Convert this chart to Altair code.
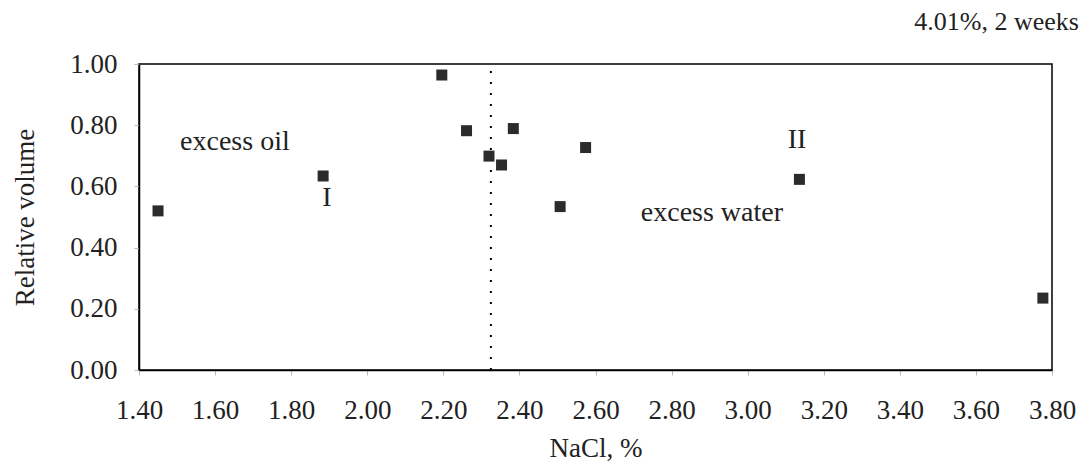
import altair as alt
import pandas as pd

nacl = [1.45, 1.884, 2.196, 2.261, 2.32, 2.353, 2.384, 2.574, 2.507, 3.136, 3.776]
rel_vol = [0.52, 0.634, 0.964, 0.782, 0.699, 0.670, 0.789, 0.727, 0.534, 0.623, 0.235]

ann_text = ["excess oil", "I", "II", "excess water"]
ann_x = [1.652, 1.894, 3.130, 2.906]
ann_y = [0.745, 0.562, 0.752, 0.513]

x_ticks = [1.4, 1.6, 1.8, 2.0, 2.2, 2.4, 2.6, 2.8, 3.0, 3.2, 3.4, 3.6, 3.8]
y_ticks = [0.0, 0.2, 0.4, 0.6, 0.8, 1.0]

boundary_x = [2.325]
FONT = "Liberation Serif"
TXT = "#222222"

pts = pd.DataFrame({"x": nacl, "y": rel_vol})
ann = pd.DataFrame({"t": ann_text, "x": ann_x, "y": ann_y})
vline = pd.DataFrame({"x": boundary_x, "y0": [0.0], "y1": [1.0]})

xs = alt.Scale(domain=[1.4, 3.8], nice=False, zero=False)
ys = alt.Scale(domain=[0, 1.0], nice=False)

common = dict(grid=False, tickSize=5, tickColor="#bbbbbb", domainColor="black", domainWidth=1.5,
              labelFont=FONT, titleFont=FONT, labelFontSize=27, titleFontSize=27,
              labelColor=TXT, titleColor=TXT, titleFontWeight="normal")

xaxis = alt.Axis(values=x_ticks, format=".2f", labelPadding=22, title="NaCl, %",
                 titlePadding=12, labelFlush=False, labelOverlap=False, **common)
yaxis = alt.Axis(values=y_ticks, format=".2f", labelPadding=17, title="Relative volume",
                 titlePadding=30, labelFlush=False, labelOverlap=False, **common)

points = alt.Chart(pts).mark_square(size=121, color="#2b2b2b", opacity=1).encode(
    x=alt.X("x:Q", scale=xs, axis=xaxis),
    y=alt.Y("y:Q", scale=ys, axis=yaxis),
)

rule = alt.Chart(vline).mark_rule(color="black", strokeWidth=2, strokeDash=[2, 9]).encode(
    x="x:Q", y="y0:Q", y2="y1:Q"
)

texts = alt.Chart(ann).mark_text(font=FONT, fontSize=28, color=TXT).encode(
    x="x:Q", y="y:Q", text="t:N"
)

chart = alt.layer(rule, points, texts).properties(
    width=913, height=306,
    title=alt.TitleParams("4.01%, 2 weeks", anchor="end", frame="group", font=FONT, fontSize=26,
                          fontWeight="normal", color=TXT, dx=27, offset=15),
    autosize=alt.AutoSizeParams(type="none"),
    padding={"left": 131, "top": 56, "right": 32, "bottom": 94},
    background="white",
).configure_view(stroke="black", strokeWidth=1.5)

chart.save("out.html", embed_options={"renderer": "svg", "actions": False})
